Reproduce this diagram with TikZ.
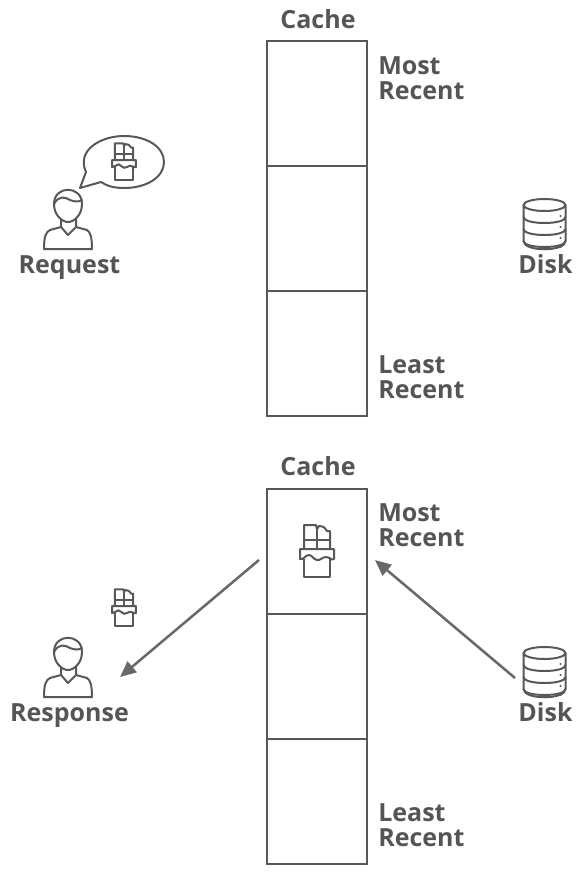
\documentclass[tikz,border=0pt]{standalone}
\usepackage{fontspec}
\setmainfont{Open Sans}
\usetikzlibrary{arrows.meta}
\definecolor{ink}{HTML}{585858}
\definecolor{txt}{HTML}{555555}
\tikzset{
  lbl/.style={text=txt,font=\fontsize{18.75}{18.75}\selectfont\bfseries,inner sep=0pt},
  cell/.style={draw=ink,line width=1.6pt,minimum width=75pt,minimum height=93.75pt,inner sep=0pt,outer sep=0pt},
  icon/.style={draw=ink,line width=1.5pt,line join=round,line cap=round},
  flow/.style={draw=ink!90,line width=1.9pt,-{Triangle[length=12pt,width=10.5pt]}},
  person/.pic={
    \draw[icon] (-14,-3) .. controls (-14,-22) and (14,-22) .. (14,-3) .. controls (14,8) and (6,15) .. (0,15) .. controls (-6,15) and (-14,8) .. (-14,-3) -- cycle;
    \draw[icon] (-14,-3) .. controls (-9,-12) and (-3,-10) .. (2,-7) .. controls (7,-5) and (11,-5) .. (14,-7);
    \draw[icon] (-7,12) -- (-7,20) -- (0,28) -- (8,20) -- (8,12);
    \draw[icon] (-7,20) -- (-18,23) .. controls (-22,25) and (-24,29) .. (-24,42) -- (24,42) .. controls (24,29) and (22,25) .. (19,23) -- (8,20);
  },
  choc/.pic={
    \draw[icon] (-13,-2) -- (-13,-26) -- (-1,-26) -- (0,-22) -- (2,-25) .. controls (6,-25) and (9,-23) .. (10,-20) -- (13,-20) -- (13,-2);
    \draw[icon] (0,-22) -- (0,-2);
    \draw[icon] (-13,-11) -- (13,-11);
    \draw[icon] (-17,-2) -- (17,-2) -- (17,8) .. controls (14,10) and (13,6) .. (9,6) .. controls (5,6) and (3,10) .. (0,9) .. controls (-4,8) and (-5,4) .. (-8,4) .. controls (-12,4) and (-13,9) .. (-17,8) -- cycle;
    \draw[icon] (-13,8) -- (-13,26) -- (13,26) -- (13,7);
  },
  disk/.pic={
    \draw[icon] (0,-19) ellipse (21 and 6);
    \draw[icon] (-21,-19) -- (-21,17) .. controls (-21,28) and (21,28) .. (21,17) -- (21,-19);
    \foreach \y in {-7,5,17}{\draw[icon] (-21,\y) .. controls (-21,\y+8) and (21,\y+8) .. (21,\y);}
    \foreach \y in {-8,3,14,23}{\fill[ink] (16,\y) circle (1.1);}
  }
}
\begin{document}
\begin{tikzpicture}[x=0.75pt,y=-0.75pt]
\useasboundingbox (0,0) rectangle (588,882);
% top stack
\node[cell] (a1) at (317,103.5) {};
\node[cell] (a2) at (317,228.5) {};
\node[cell] (a3) at (317,353.5) {};
\node[lbl,anchor=base] (ac) at (318,28) {Cache};
\node[lbl,anchor=base west] (am) at (378,74) {Most};
\node[lbl,anchor=base west] (ar) at (378,99) {Recent};
\node[lbl,anchor=base west] (al) at (378,373) {Least};
\node[lbl,anchor=base west] (ar2) at (378,398) {Recent};
\pic at (68,207) {person};
\draw[icon] (86,172) .. controls (76,150) and (101,136) .. (124,136) .. controls (147,136) and (164,147) .. (164,162) .. controls (164,177) and (147,188) .. (124,188) .. controls (114,188) and (107,186) .. (101,182) -- (80,188) -- cycle;
\pic[scale=0.7] at (124,161.5) {choc};
\node[lbl,anchor=base] (req) at (69.5,273) {Request};
\pic at (544.5,224) {disk};
\node[lbl,anchor=base] (d1) at (545.5,273) {Disk};
% bottom stack
\node[cell] (b1) at (317,551.5) {};
\node[cell] (b2) at (317,676.5) {};
\node[cell] (b3) at (317,801.5) {};
\node[lbl,anchor=base] (bc) at (318,475) {Cache};
\node[lbl,anchor=base west] (bm) at (378,521) {Most};
\node[lbl,anchor=base west] (br) at (378,546) {Recent};
\node[lbl,anchor=base west] (bl) at (378,821) {Least};
\node[lbl,anchor=base west] (br2) at (378,846) {Recent};
\pic at (317,551) {choc};
\pic[scale=0.7] at (124,607.5) {choc};
\pic at (68,655) {person};
\node[lbl,anchor=base] (res) at (69.5,721) {Response};
\pic at (544.5,672) {disk};
\node[lbl,anchor=base] (d2) at (545.5,721) {Disk};
\coordinate (p1) at (259,560);
\coordinate (p2) at (120,677);
\coordinate (p3) at (515,678);
\coordinate (p4) at (375,560);
\draw[flow] (p1) -- (p2);
\draw[flow] (p3) -- (p4);
\end{tikzpicture}
\end{document}
